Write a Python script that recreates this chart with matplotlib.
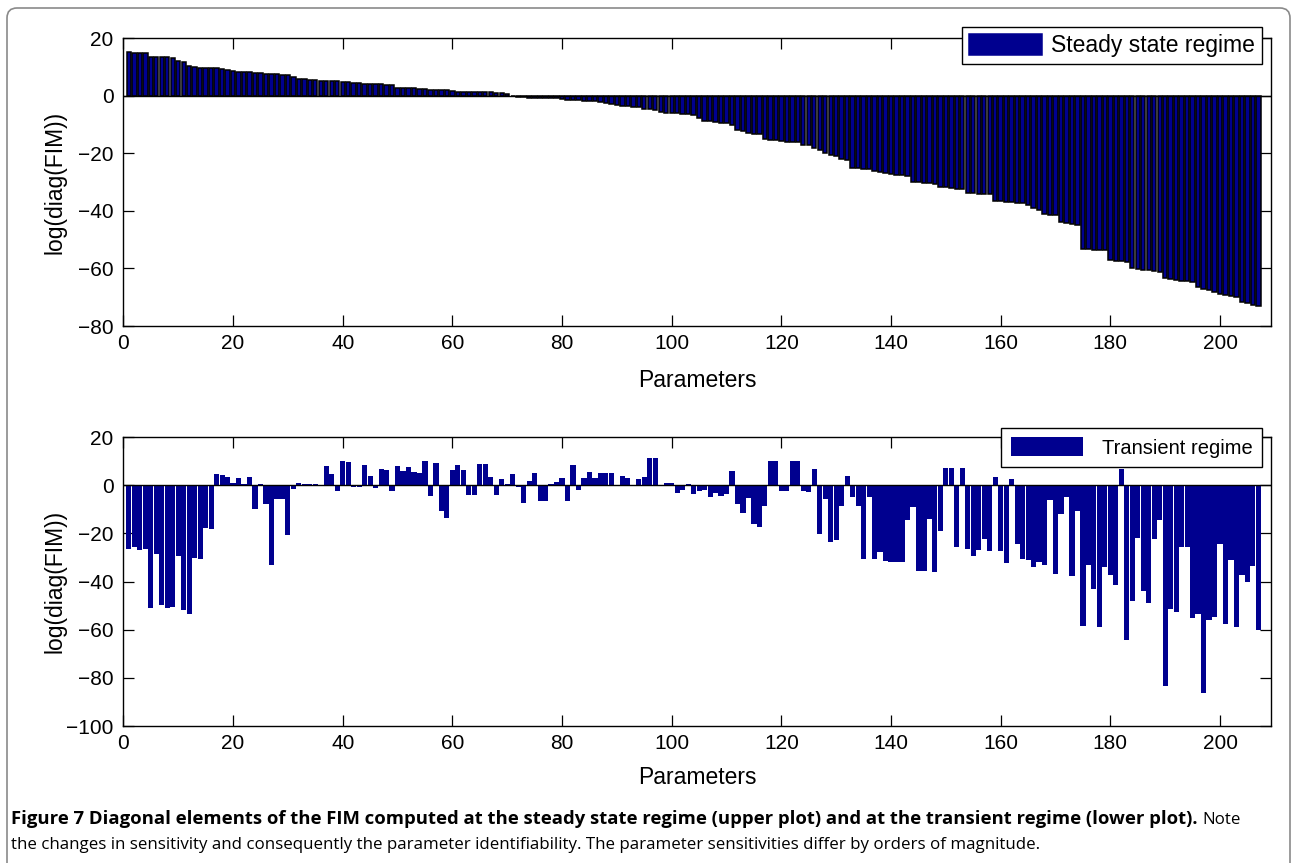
import numpy as np
import matplotlib
matplotlib.use("Agg")
import matplotlib.pyplot as plt
from matplotlib.patches import FancyBboxPatch

# ---------------- data ----------------
steady_state = [
    15.0, 14.9, 14.9, 14.8, 13.5, 13.4, 13.3, 13.3, 13.2, 12.1,
    11.6, 10.4, 9.8, 9.7, 9.7, 9.6, 9.5, 9.2, 8.8, 8.5,
    8.3, 8.2, 8.1, 8.0, 7.8, 7.6, 7.5, 7.4, 7.3, 7.2,
    6.6, 5.7, 5.6, 5.5, 5.4, 5.1, 5.0, 4.9, 4.9, 4.8,
    4.6, 4.5, 4.3, 4.2, 4.1, 4.0, 3.9, 3.8, 3.7, 2.8,
    2.7, 2.6, 2.5, 2.4, 2.4, 2.1, 2.0, 1.9, 1.8, 1.5,
    1.4, 1.4, 1.3, 1.3, 1.2, 1.1, 1.1, 1.0, 1.0, 0.6,
    -0.3, -0.4, -0.6, -0.7, -0.8, -0.8, -0.9, -1.0, -1.0, -1.1,
    -1.4, -1.6, -1.7, -1.8, -1.9, -2.0, -2.2, -2.4, -2.8, -3.1,
    -3.6, -3.7, -3.8, -3.9, -4.6, -4.8, -5.0, -5.7, -5.9, -6.1,
    -6.2, -6.4, -6.5, -6.6, -7.9, -8.7, -8.8, -9.2, -9.4, -9.6,
    -10.2, -12.0, -12.4, -12.9, -13.3, -13.5, -15.0, -15.3, -15.5, -15.8,
    -16.0, -16.1, -16.2, -17.1, -17.3, -18.3, -18.8, -20.0, -20.5, -21.0,
    -22.0, -22.3, -25.0, -25.2, -25.4, -25.6, -26.1, -26.4, -26.8, -27.2,
    -27.4, -27.6, -27.8, -29.9, -30.1, -30.3, -30.5, -30.8, -31.6, -31.8,
    -32.0, -32.3, -32.5, -33.7, -33.8, -34.0, -34.1, -34.2, -36.5, -36.7,
    -36.9, -37.1, -37.3, -37.4, -38.0, -39.0, -39.8, -41.0, -41.3, -41.5,
    -43.8, -44.1, -44.5, -45.0, -53.1, -53.3, -53.5, -53.6, -53.7, -57.2,
    -57.4, -57.5, -57.7, -60.0, -60.3, -60.5, -60.7, -61.0, -61.2, -63.5,
    -63.8, -64.0, -64.3, -64.5, -64.7, -66.4, -67.0, -67.6, -68.2, -68.8,
    -69.4, -69.7, -70.0, -71.7, -71.9, -72.8, -73.2,
]

transient = [
    -26.4, -25.7, -27.0, -26.6, -51.0, -28.7, -49.7, -51.0, -50.4, -29.6,
    -51.8, -53.7, -30.1, -30.6, -17.6, -18.0, 4.6, 4.2, 3.2, 1.0,
    3.0, 0.3, 3.5, -9.7, 0.3, -7.8, -33.3, -5.6, -5.6, -20.8,
    -1.4, 1.1, 0.6, 0.5, 0.5, -0.3, 7.9, 4.7, -2.5, 10.0,
    9.6, -0.8, -0.8, 8.5, 4.0, -1.25, 6.7, 6.5, -2.4, 8.0,
    5.7, 7.5, 5.3, 5.1, 10.0, -4.4, 9.4, -10.6, -13.5, 6.5,
    8.3, 6.25, -4.0, -4.2, 8.6, 8.6, 3.2, -4.2, 2.6, 0.6,
    4.7, -0.8, -7.2, 1.8, 5.1, -6.7, -6.7, 0.4, 1.25, 2.8,
    -6.7, 8.5, -1.9, 3.0, 5.6, 3.0, 5.1, 4.9, 4.9, -0.5,
    3.9, 2.8, 0.2, 2.4, 3.2, 11.1, 11.1, 0.1, 0.7, 1.0,
    -3.1, -1.9, 0.3, -3.5, -2.4, -2.2, -5.0, -3.2, -4.6, -3.75,
    5.7, -7.9, -11.4, -5.4, -16.25, -17.5, -8.5, 9.9, 9.9, -2.6,
    -2.6, 9.9, 9.9, -2.6, -2.9, 6.8, -20.4, -5.8, -23.75, -22.6,
    -8.75, 3.6, -4.9, -8.75, -30.6, -4.9, -30.6, -27.8, -31.5, -32.0,
    -32.0, -31.7, -14.3, -9.0, -35.7, -35.7, -13.9, -36.25, -18.9, 7.2,
    7.2, -25.6, 7.2, -26.4, -29.4, -27.1, -22.2, -27.5, 3.2, -27.2,
    -32.2, 2.6, -24.3, -30.6, -31.0, -34.0, -32.0, -33.0, -6.25, -36.8,
    -12.1, -4.9, -37.6, -10.8, -58.3, -33.3, -43.3, -59.0, -34.0, -37.5,
    -41.25, 6.9, -64.2, -48.2, -21.8, -44.0, -49.0, -22.4, -14.6, -83.2,
    -51.25, -52.8, -25.7, -25.6, -55.3, -53.3, -86.1, -55.8, -54.6, -24.3,
    -57.5, -31.1, -58.75, -37.2, -40.3, -33.75, -60.0,
]

parameters = np.arange(1, len(steady_state) + 1)
x_ticks = [0, 20, 40, 60, 80, 100, 120, 140, 160, 180, 200]
upper_y_ticks = [-80, -60, -40, -20, 0, 20]
lower_y_ticks = [-100, -80, -60, -40, -20, 0, 20]

upper_legend = "Steady state regime"
lower_legend = "Transient regime"
x_label = "Parameters"
y_label = "log(diag(FIM))"
caption_bold = ("Figure 7 Diagonal elements of the FIM computed at the steady state "
                "regime (upper plot) and at the transient regime (lower plot).")
caption_rest1 = "Note"
caption_line2 = ("the changes in sensitivity and consequently the parameter identifiability. "
                 "The parameter sensitivities differ by orders of magnitude.")

# ---------------- style ----------------
W, H = 1293, 863
plt.rcParams["font.family"] = ["Liberation Sans", "DejaVu Sans"]
plt.rcParams["axes.linewidth"] = 1.0
bar_color = (0.0, 0.0, 0.5625)

fig = plt.figure(figsize=(W / 100, H / 100), dpi=100)

def px_axes(left, top, right, bottom):
    return fig.add_axes([left / W, 1 - bottom / H, (right - left) / W, (bottom - top) / H])

ax1 = px_axes(123.4, 38, 1271, 326)
ax2 = px_axes(123.4, 437, 1271, 726)

ax1.bar(parameters, steady_state, width=0.8, color=bar_color, edgecolor="black",
        linewidth=1.1, label=upper_legend, zorder=2)
ax2.bar(parameters, transient, width=0.94, color=bar_color, edgecolor="none",
        linewidth=0, label=lower_legend, zorder=2)

for ax, yt in ((ax1, upper_y_ticks), (ax2, lower_y_ticks)):
    ax.axhline(0, color="black", linewidth=1.0, zorder=3)
    ax.set_xlim(0, 209.3)
    ax.set_ylim(yt[0], yt[-1])
    ax.set_xticks(x_ticks)
    ax.set_yticks(yt)
    ax.tick_params(direction="in", length=8, width=0.9, top=True, right=True,
                   labelsize=15, colors="black")
    ax.tick_params(axis="x", pad=6)
    ax.tick_params(axis="y", pad=7)
    ax.set_xlabel(x_label, fontsize=16.5)
    ax.set_ylabel(y_label, fontsize=16.5)
    ax.yaxis.set_label_coords(-0.050, 0.5)

ax1.xaxis.set_label_coords(0.5, -0.150)
ax2.xaxis.set_label_coords(0.5, -0.140)

leg1 = ax1.legend(loc="upper right", bbox_to_anchor=(1262 / W, 1 - 27 / H),
                  bbox_transform=fig.transFigure, borderaxespad=0, fontsize=16.5,
                  fancybox=False, framealpha=1, edgecolor="black",
                  handlelength=3.2, handleheight=1.05, handletextpad=0.4, borderpad=0.3)
leg1.get_frame().set_linewidth(1.0)
leg2 = ax2.legend(loc="upper right", bbox_to_anchor=(1262 / W, 1 - 428 / H),
                  bbox_transform=fig.transFigure, borderaxespad=0, fontsize=14.5,
                  fancybox=False, framealpha=1, edgecolor="black",
                  handlelength=3.6, handleheight=1.1, handletextpad=0.95, borderpad=0.45)
leg2.get_frame().set_linewidth(1.0)
for leg in (leg1, leg2):
    for h in leg.legend_handles:
        h.set_edgecolor(bar_color)

# outer rounded frame
frame = FancyBboxPatch((7 / 100, -0.5), (1290 - 7) / 100, (H - 8) / 100 + 0.5,
                       boxstyle="round,pad=0,rounding_size=0.1",
                       transform=fig.dpi_scale_trans, facecolor="none",
                       edgecolor="#8a8a8a", linewidth=1.2, clip_on=False)
fig.patches.append(frame)

# caption
cap_font = ["Open Sans", "DejaVu Sans"]
t1 = fig.text(11 / W, 1 - 824 / H, caption_bold, fontsize=13.3, fontweight="bold",
              family=cap_font, va="baseline", ha="left")
fig.canvas.draw()
bb = t1.get_window_extent()
fig.text((bb.x1 + 5) / W, 1 - 824 / H, caption_rest1, fontsize=12.2,
         family=cap_font, va="baseline", ha="left")
fig.text(11 / W, 1 - 849 / H, caption_line2, fontsize=12.2,
         family=cap_font, va="baseline", ha="left")

fig.savefig("out.png", dpi=100)
